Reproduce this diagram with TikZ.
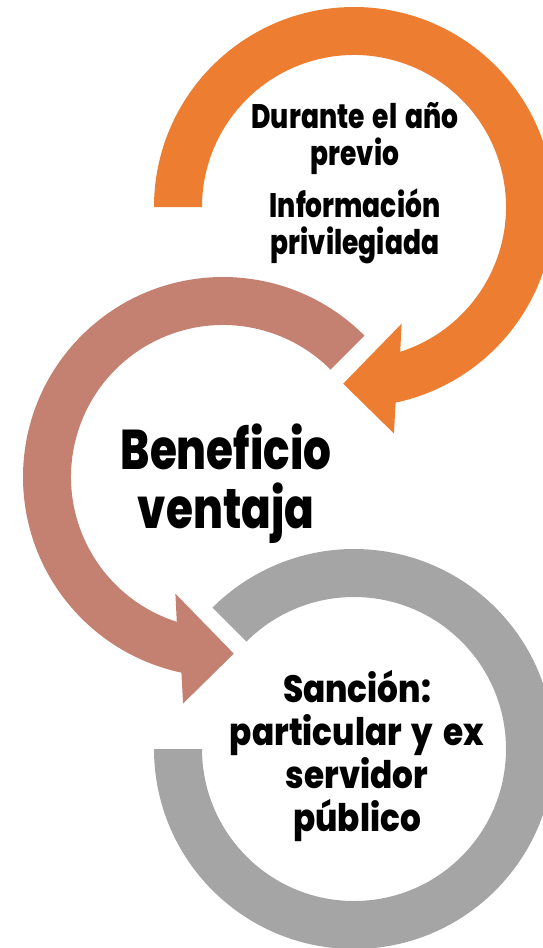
\documentclass[tikz,border=0pt]{standalone}
\usepackage{fontspec}
\setmainfont{Poppins}[FakeStretch=0.78, BoldFont={* ExtraBold}, WordSpace=1.6]
\usepackage{tikz}

\definecolor{ringorange}{RGB}{237,125,49}
\definecolor{ringrose}{RGB}{196,128,112}
\definecolor{ringgrey}{RGB}{165,165,165}

\newcommand{\ringarrow}[1]{%
  (#1:200) arc[start angle=#1, end angle=-78, radius=200]
  -- (-80:230) -- (-93.5:177) -- (-67.8:126) -- (-72.3:152)
  arc[start angle=-72.3, end angle=#1, radius=152] -- cycle}

\begin{document}
\begin{tikzpicture}
        [x=1pt,y=1pt,every node/.style={align=center,inner sep=0pt}]
        \useasboundingbox (0,0) rectangle (543,-948);
        \clip (0,0) rectangle (543,-948);

        \fill[ringgrey, shift={(354,-749)}] (180:200) arc[start angle=180, end angle=495, radius=200]
            -- (495:152) arc[start angle=495, end angle=180, radius=152] -- cycle;
        \foreach \col/\x/\y/\s/\a in {ringorange/354/-207/1/180, ringrose/223/-477/-1/135}
            \fill[\col, shift={(\x,\y)}, xscale=\s] \ringarrow{\a};

        \node[font=\bfseries\fontsize{34}{37}\selectfont] (t1) at (355,-139) {Durante el año\\previo};
        \node[font=\bfseries\fontsize{34}{37}\selectfont] (t2) at (355,-226) {Información\\privilegiada};
        \node[font=\bfseries\fontsize{56}{59}\selectfont] (t3) at (226,-484) {Beneficio\\ventaja};
        \node[font=\bfseries\addfontfeatures{FakeStretch=0.86}\fontsize{38}{43}\selectfont] (t4) at (357,-756) {Sanción:\\particular y ex\\servidor\\público};

      \end{tikzpicture}
\end{document}
